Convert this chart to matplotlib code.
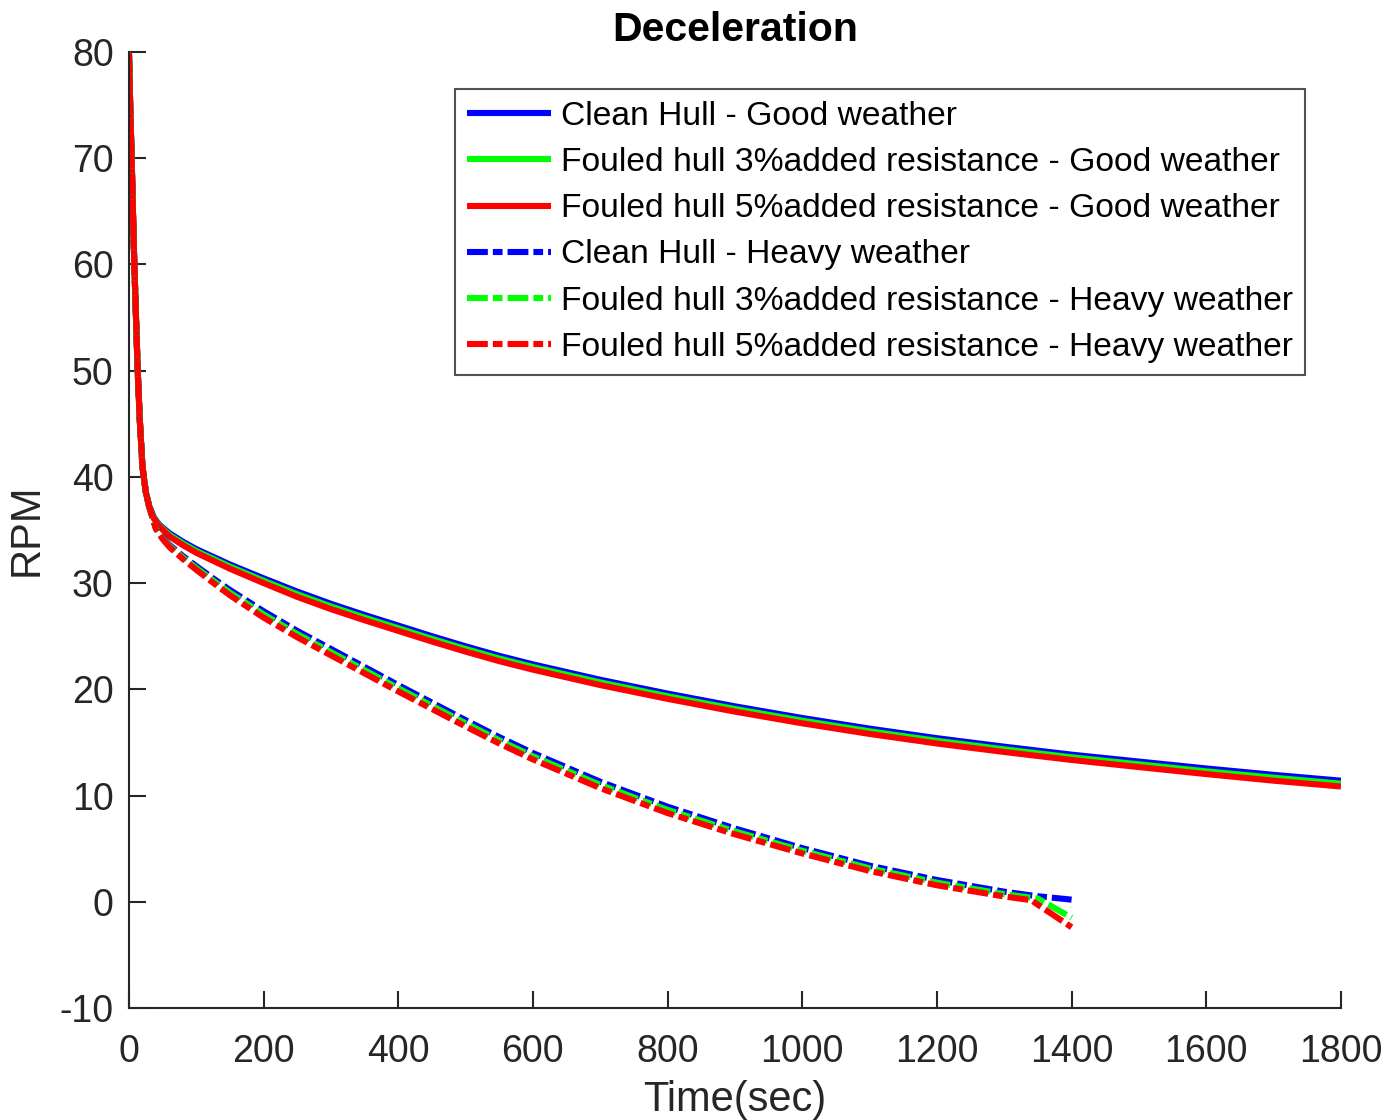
import matplotlib
matplotlib.use("Agg")
import matplotlib.pyplot as plt

plt.rcParams['font.family'] = ['Liberation Sans', 'DejaVu Sans']
plt.rcParams['lines.scale_dashes'] = False
plt.rcParams['axes.unicode_minus'] = False

# Good weather runs: time (s) and shaft speed (RPM)
t_good = [0, 2, 4, 6, 8, 10, 13, 16, 20, 25, 30, 37, 45, 60, 80, 100, 150, 200,
          250, 300, 350, 400, 450, 500, 550, 600, 700, 800, 900, 1000, 1100, 1200,
          1300, 1400, 1500, 1600, 1700, 1800]
clean_good = [80, 74.5, 70, 64.8, 60, 56, 50, 45.5, 41, 38.6, 37.3, 36.2, 35.5, 34.7,
              33.9, 33.2, 31.75, 30.45, 29.2, 28.05, 27.0, 26.0, 25.0, 24.05, 23.15,
              22.35, 20.9, 19.6, 18.4, 17.3, 16.3, 15.4, 14.6, 13.85, 13.2, 12.55,
              11.95, 11.4]
foul3_good = [80, 74.5, 70, 64.8, 60, 56, 50, 45.5, 41, 38.58, 37.25, 36.14, 35.42,
              34.55, 33.74, 33.02, 31.55, 30.22, 28.95, 27.8, 26.75, 25.75, 24.75,
              23.8, 22.9, 22.1, 20.65, 19.35, 18.15, 17.05, 16.05, 15.15, 14.35, 13.6,
              12.94, 12.28, 11.68, 11.12]
foul5_good = [80, 74.5, 70, 64.8, 60, 56, 50, 45.5, 41, 38.55, 37.2, 36.08, 35.35,
              34.4, 33.58, 32.85, 31.35, 30.0, 28.7, 27.55, 26.5, 25.5, 24.5, 23.55,
              22.65, 21.85, 20.4, 19.1, 17.9, 16.8, 15.8, 14.9, 14.1, 13.35, 12.68,
              12.02, 11.4, 10.85]

# Heavy weather runs
t_heavy = [0, 2, 4, 6, 8, 10, 13, 16, 20, 25, 30, 40, 50, 60, 80, 100, 125, 150,
           200, 250, 300, 350, 400, 450, 500, 550, 600, 700, 800, 900, 1000, 1100,
           1200, 1300, 1340, 1350, 1400]
clean_heavy = [80, 74.5, 70, 64.8, 60, 56, 50, 45.5, 41, 38.6, 37.2, 35.2, 34.3, 33.6,
               32.55, 31.6, 30.45, 29.35, 27.35, 25.5, 23.8, 22.1, 20.4, 18.75, 17.1,
               15.5, 14.0, 11.3, 8.95, 6.9, 5.05, 3.4, 2.05, 0.95, 0.6, 0.52, 0.2]
foul3_heavy = [80, 74.5, 70, 64.8, 60, 56, 50, 45.5, 41, 38.6, 37.2, 35.15, 34.22,
               33.5, 32.41, 31.42, 30.24, 29.1, 27.05, 25.2, 23.5, 21.8, 20.1, 18.45,
               16.8, 15.2, 13.7, 11.0, 8.65, 6.62, 4.8, 3.15, 1.8, 0.72, 0.38, 0.3, -1.5]
foul5_heavy = [80, 74.5, 70, 64.8, 60, 56, 50, 45.5, 41, 38.6, 37.2, 35.1, 34.15,
               33.4, 32.27, 31.25, 30.03, 28.85, 26.75, 24.9, 23.2, 21.5, 19.8, 18.15,
               16.5, 14.9, 13.4, 10.7, 8.35, 6.35, 4.55, 2.9, 1.55, 0.5, 0.15, -0.28,
               -2.4]

labels = ['Clean Hull - Good weather',
          'Fouled hull 3%added resistance - Good weather',
          'Fouled hull 5%added resistance - Good weather',
          'Clean Hull - Heavy weather',
          'Fouled hull 3%added resistance - Heavy weather',
          'Fouled hull 5%added resistance - Heavy weather']

x_ticks = [0, 200, 400, 600, 800, 1000, 1200, 1400, 1600, 1800]
y_ticks = [-10, 0, 10, 20, 30, 40, 50, 60, 70, 80]

colors = ['#0000ff', '#00ff00', '#ff0000']
dashdot = (0, (15, 3.6, 7, 3.6))
axis_col = '#262626'

fig = plt.figure(figsize=(14, 11.2), dpi=100)
ax = fig.add_axes([0.0921, 0.1, 0.8657, 0.8536])

lw = 4.4
for y, c, lab in zip([clean_good, foul3_good, foul5_good], colors, labels[:3]):
    ax.plot(t_good, y, color=c, lw=lw, label=lab, solid_capstyle='butt',
            solid_joinstyle='round')
for y, c, lab in zip([clean_heavy, foul3_heavy, foul5_heavy], colors, labels[3:]):
    ax.plot(t_heavy, y, color=c, lw=lw, ls=dashdot, label=lab, dash_capstyle='butt',
            dash_joinstyle='round')

ax.set_xlim(0, 1800)
ax.set_ylim(-10, 80)
ax.set_xticks(x_ticks)
ax.set_yticks(y_ticks)
ax.tick_params(direction='in', length=12, width=1.5, colors=axis_col,
               labelsize=27, top=False, right=False)
ax.tick_params(axis='x', pad=19)
ax.tick_params(axis='y', pad=11)
for s in ['top', 'right']:
    ax.spines[s].set_visible(False)
for s in ['left', 'bottom']:
    ax.spines[s].set_color(axis_col)
    ax.spines[s].set_linewidth(1.5)

ax.set_xlabel('Time(sec)', fontsize=30, color=axis_col, labelpad=7)
ax.set_ylabel('RPM', fontsize=30, color=axis_col, labelpad=9)
ax.set_title('Deceleration', fontsize=29.5, fontweight='bold', pad=8)

leg = ax.legend(loc='upper right', bbox_to_anchor=(0.9703, 0.9613),
                borderaxespad=0, fontsize=24.2, frameon=True, fancybox=False,
                handlelength=2.5, handletextpad=0.3, labelspacing=0.45,
                borderpad=0.36)
leg.get_frame().set_edgecolor(axis_col)
leg.get_frame().set_linewidth(1.5)
for txt in leg.get_texts():
    txt.set_color('#000000')

fig.savefig('out.png', dpi=100, facecolor='white')
